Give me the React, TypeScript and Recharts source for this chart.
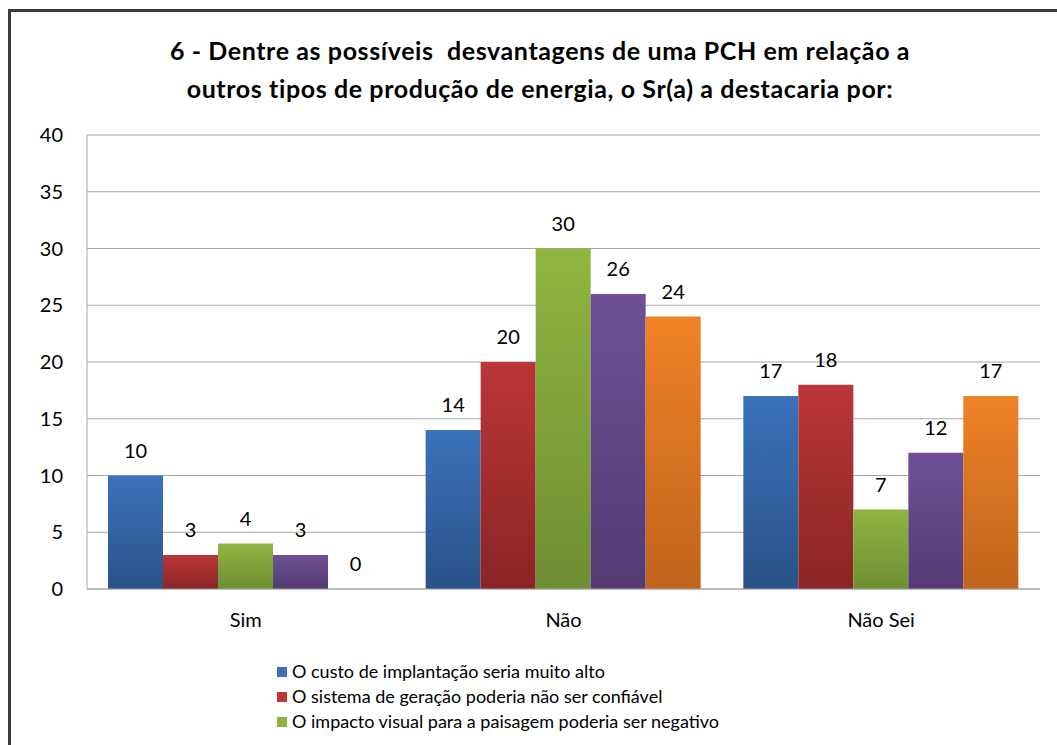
import React from "react";
import {
  BarChart,
  Bar,
  XAxis,
  YAxis,
  CartesianGrid,
  LabelList,
} from "recharts";

const categories = ["Sim", "Não", "Não Sei"];

const seriesNames = [
  "O custo de implantação seria muito alto",
  "O sistema de geração poderia não ser confiável",
  "O impacto visual para a paisagem poderia ser negativo",
  "O impacto ambiental poderia ser grande",
  "Outros",
];

const custo = [10, 14, 17];
const sistema = [3, 20, 18];
const impacto = [4, 30, 7];
const ambiental = [3, 26, 12];
const outros = [0, 24, 17];

const yTicks = [0, 5, 10, 15, 20, 25, 30, 35, 40];

// top / bottom of each bar's gradient
const colors = [
  ["#3b72bb", "#2a5287"],
  ["#bb3636", "#8a2525"],
  ["#8fb541", "#6d8f32"],
  ["#6f5097", "#543b74"],
  ["#f08226", "#bf641c"],
];

const seriesValues = [custo, sistema, impacto, ambiental, outros];
const keys = ["s0", "s1", "s2", "s3", "s4"];

const data = categories.map((name, i) => {
  const row: Record<string, string | number> = { name };
  keys.forEach((k, j) => {
    row[k] = seriesValues[j][i];
  });
  return row;
});

const FONT = "Lato, 'Noto Sans', sans-serif";

// keep zero-value bars in the layout so their "0" label still shows
const keepZero = (v: number) => (v === 0 ? 0.01 : 0);

// the frame is cut off under the third legend row
const legendRowsInView = 3;

export default function App() {
  return (
    <div
      style={{
        position: "fixed",
        left: 0,
        top: 0,
        width: 1057,
        height: 745,
        overflow: "hidden",
        background: "#fff",
        fontFamily: FONT,
      }}
    >
      <div
        style={{
          position: "absolute",
          left: 8,
          top: 9,
          width: 1100,
          height: 800,
          borderLeft: "3px solid #3a3a3a",
          borderTop: "3px solid #3a3a3a",
        }}
      />
      <div
        style={{
          position: "absolute",
          left: 0,
          top: 31,
          width: 1080,
          textAlign: "center",
          fontWeight: "bold",
          fontSize: 25,
          letterSpacing: 0.6,
          lineHeight: "38px",
          color: "#000",
        }}
      >
        <div>6 - Dentre as possíveis&nbsp; desvantagens de uma PCH em relação a</div>
        <div>outros tipos de produção de energia, o Sr(a) a destacaria por:</div>
      </div>
      <div style={{ position: "absolute", left: 0, top: 0 }}>
        <BarChart
          width={1057}
          height={680}
          data={data}
          margin={{ top: 135, right: 17, left: 27, bottom: 30 }}
          barCategoryGap={21}
          barGap={0}
          style={{ fontFamily: FONT }}
        >
          <defs>
            {colors.map((c, i) => (
              <linearGradient key={i} id={`g${i}`} x1="0" y1="0" x2="0" y2="1">
                <stop offset="0%" stopColor={c[0]} />
                <stop offset="100%" stopColor={c[1]} />
              </linearGradient>
            ))}
          </defs>
          <CartesianGrid vertical={false} stroke="#a6a6a6" />
          <XAxis
            dataKey="name"
            axisLine={{ stroke: "#a6a6a6" }}
            tickLine={false}
            tickSize={0}
            tickMargin={24}
            height={61}
            tick={{ fill: "#000", fontSize: 20 }}
          />
          <YAxis
            domain={[0, 40]}
            ticks={yTicks}
            width={60}
            axisLine={{ stroke: "#a6a6a6" }}
            tickLine={false}
            tickSize={0}
            tickMargin={24}
            tick={{ fill: "#000", fontSize: 20 }}
          />
          {keys.map((k, i) => (
            <Bar
              key={k}
              dataKey={k}
              name={seriesNames[i]}
              fill={`url(#g${i})`}
              minPointSize={keepZero}
              isAnimationActive={false}
            >
              <LabelList dataKey={k} position="top" offset={18} fill="#000" fontSize={20} />
            </Bar>
          ))}
        </BarChart>
      </div>
      <div
        style={{
          position: "absolute",
          left: 277,
          top: 659,
          fontSize: 18,
          lineHeight: "25px",
          color: "#000",
        }}
      >
        {seriesNames.slice(0, legendRowsInView).map((n, i) => (
          <div key={n} style={{ display: "flex", alignItems: "center" }}>
            <span
              style={{
                display: "inline-block",
                width: 10,
                height: 10,
                marginRight: 5,
                background: colors[i][0],
              }}
            />
            {n}
          </div>
        ))}
      </div>
    </div>
  );
}
